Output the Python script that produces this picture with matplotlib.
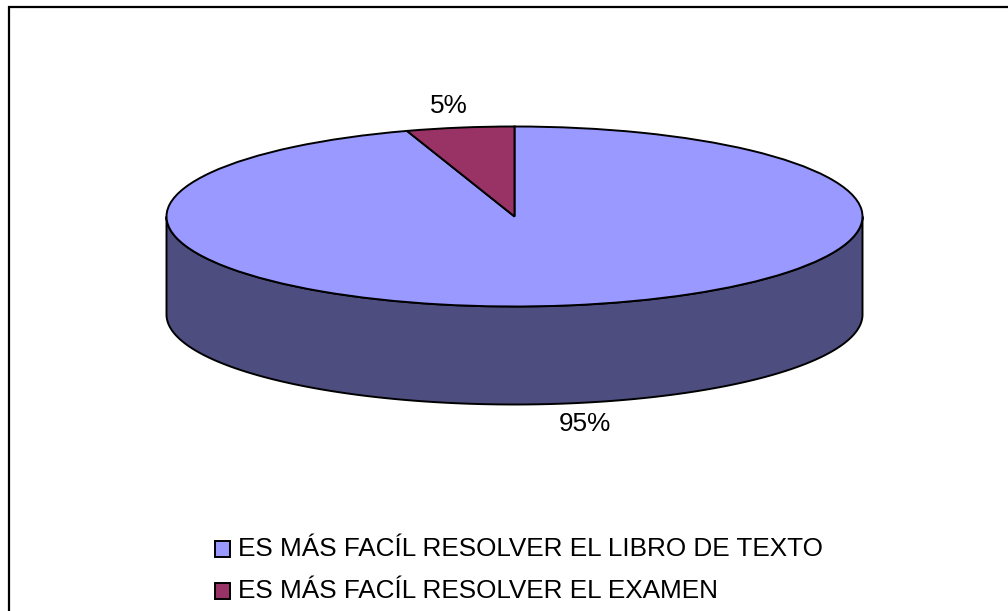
import numpy as np
import matplotlib
matplotlib.use("Agg")
import matplotlib.pyplot as plt

plt.rcParams['font.family'] = ['Liberation Sans', 'DejaVu Sans']

categories = ["ES MÁS FACÍL RESOLVER EL LIBRO DE TEXTO",
              "ES MÁS FACÍL RESOLVER EL EXAMEN"]
values = [95, 5]
value_labels = ["95%", "5%"]
colors = ["#9999FF", "#993366"]
wall_color = "#4D4D80"

W, H = 1008, 611
CX, CY, RX, RY, DEPTH = 514.5, 216.5, 348, 90, 98
FS = 18.8
LW = 1.4

fig = plt.figure(figsize=(W / 100, H / 100), dpi=100, facecolor="white")

# overlay in pixel coordinates: frame and labels
bg = fig.add_axes([0, 0, 1, 1])
bg.set_xlim(0, W)
bg.set_ylim(H, 0)
bg.axis("off")
bg.plot([8.5, 8.5, W + 5], [H + 5, 6.5, 6.5], color="black", lw=1.6, solid_joinstyle="miter")

# pie axes: unit circle mapped on to the ellipse, with room for the wall
ax = fig.add_axes([(CX - RX) / W, 1 - (CY + RY + DEPTH) / H,
                   2 * RX / W, (2 * RY + DEPTH) / H])
ax.patch.set_alpha(0)
wedges, _ = ax.pie(values, colors=colors, startangle=90, counterclock=False, radius=1,
                   wedgeprops=dict(edgecolor="black", linewidth=LW, zorder=3))
ax.set_aspect("auto")
ax.set_xlim(-1, 1)
ax.set_ylim(-1 - DEPTH / RY, 1)
ax.axis("off")

# side wall of the cylinder
t = np.linspace(np.pi, 2 * np.pi, 361)
d = DEPTH / RY
xw = np.concatenate([np.cos(t), np.cos(t[::-1])])
yw = np.concatenate([np.sin(t), np.sin(t[::-1]) - d])
ax.fill(xw, yw, facecolor=wall_color, edgecolor="black", linewidth=LW, zorder=2, clip_on=False)

for lab, x, y in zip(value_labels, (585, 449), (424, 106)):
    bg.text(x, y, lab, fontsize=FS, color="black", ha="center", va="center")

leg = fig.legend(wedges, categories, loc="lower left",
                 bbox_to_anchor=(210 / W, 1 - 608.5 / H), bbox_transform=fig.transFigure,
                 frameon=False, fontsize=FS, handlelength=0.55, handleheight=0.55,
                 handletextpad=0.32, labelspacing=0.70, borderpad=0.2, borderaxespad=0)
for h in leg.legend_handles:
    h.set_y(h.get_y() - 1.5)

fig.savefig("out.png", dpi=100)
